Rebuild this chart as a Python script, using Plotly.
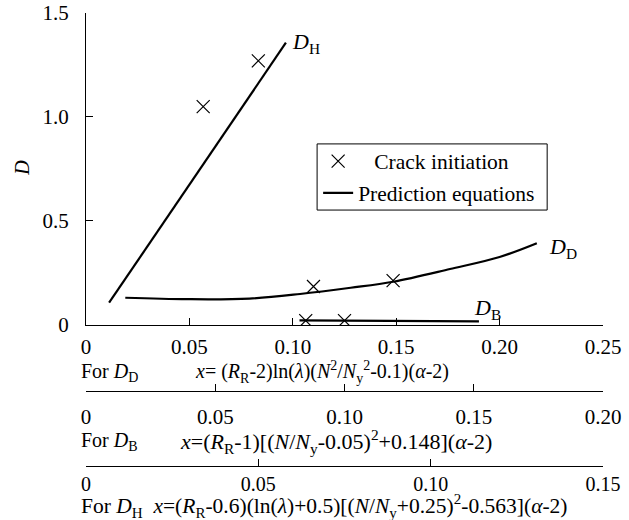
import plotly.graph_objects as go

FONT = "Liberation Serif"

# ---- data ----
crack_DH_x = [0.034, 0.050]
crack_DH_y = [1.05, 1.27]
crack_DD_x = [0.110, 0.1485]
crack_DD_y = [0.185, 0.213]
crack_DB_x = [0.085, 0.100]
crack_DB_y = [0.021, 0.021]

pred_DH_x = [0.0067, 0.031, 0.058]
pred_DH_y = [0.107, 0.697, 1.357]
pred_DD_x = [0.019, 0.049, 0.079, 0.1035, 0.128, 0.1485, 0.176, 0.200, 0.218]
pred_DD_y = [0.131, 0.124, 0.127, 0.149, 0.179, 0.208, 0.269, 0.327, 0.393]
pred_DB_x = [0.0826, 0.152]
pred_DB_y = [0.022, 0.017]

y_ticks = [0, 0.5, 1.0, 1.5]
y_ticktext = ["0", "0.5", "1.0", "1.5"]
xD_ticks = [0, 0.05, 0.10, 0.15, 0.20, 0.25]
xD_text = ["0", "0.05", "0.10", "0.15", "0.20", "0.25"]
xB_ticks = [0, 0.05, 0.10, 0.15, 0.20]
xB_text = ["0", "0.05", "0.10", "0.15", "0.20"]
xH_ticks = [0, 0.05, 0.10, 0.15]
xH_text = ["0", "0.05", "0.10", "0.15"]

fig = go.Figure()

line_style = dict(color="black", width=2.2)
mk = dict(symbol="x-thin", size=13, color="black", line=dict(color="black", width=1.2))

fig.add_trace(go.Scatter(x=pred_DH_x, y=pred_DH_y, mode="lines", line=line_style,
                         xaxis="x3", yaxis="y", showlegend=False, legendgroup="p"))
fig.add_trace(go.Scatter(x=pred_DD_x, y=pred_DD_y, mode="lines", line=dict(line_style, shape="spline"),
                         xaxis="x", yaxis="y", name="Prediction equations",
                         legend="legend2", legendgroup="p"))
fig.add_trace(go.Scatter(x=pred_DB_x, y=pred_DB_y, mode="lines", line=line_style,
                         xaxis="x2", yaxis="y", showlegend=False, legendgroup="p"))

fig.add_trace(go.Scatter(x=crack_DH_x, y=crack_DH_y, mode="markers", marker=mk,
                         xaxis="x3", yaxis="y", name="\u00a0\u00a0\u00a0Crack initiation",
                         legend="legend", legendgroup="c"))
fig.add_trace(go.Scatter(x=crack_DD_x, y=crack_DD_y, mode="markers", marker=mk,
                         xaxis="x", yaxis="y", showlegend=False, legendgroup="c"))
fig.add_trace(go.Scatter(x=crack_DB_x, y=crack_DB_y, mode="markers", marker=mk,
                         xaxis="x2", yaxis="y", showlegend=False, legendgroup="c"))

axis_common = dict(showline=True, linecolor="black", linewidth=1, ticks="inside",
                   ticklen=7, tickcolor="black", tickwidth=1, showgrid=False, zeroline=False,
                   automargin=False)
tf = dict(family=FONT, size=21, color="black")

y_dom0 = 0.3113
fig.update_layout(
    width=629, height=520,
    margin=dict(l=86, r=26, t=13, b=54, autoexpand=False),
    paper_bgcolor="white", plot_bgcolor="white",
    font=dict(family=FONT, size=20, color="black"),
    yaxis=dict(domain=[y_dom0, 1], range=[0, 1.5], tickvals=y_ticks, ticktext=y_ticktext,
               ticklabelstandoff=12, tickfont=tf, **axis_common),
    xaxis=dict(range=[0, 0.25], tickvals=xD_ticks, ticktext=xD_text, anchor="y",
               ticklabelstandoff=3, tickfont=tf, **axis_common),
    xaxis2=dict(range=[0, 0.2], tickvals=xB_ticks, ticktext=xB_text, overlaying="x",
                anchor="free", position=0.1645, side="bottom", ticklabelstandoff=6,
                tickfont=tf, **axis_common),
    xaxis3=dict(range=[0, 0.15], tickvals=xH_ticks, ticktext=xH_text, overlaying="x",
                anchor="free", position=0.0, side="bottom", ticklabelstandoff=0,
                tickfont=dict(tf, size=20), **axis_common),
    legend=dict(x=0.449, y=0.673, xanchor="left", yanchor="middle", bgcolor="rgba(0,0,0,0)",
                borderwidth=0, font=dict(family=FONT, size=21.5, color="black")),
    legend2=dict(x=0.449, y=0.603, xanchor="left", yanchor="middle", bgcolor="rgba(0,0,0,0)",
                 borderwidth=0, font=dict(family=FONT, size=21.5, color="black")),
    shapes=[dict(type="rect", xref="paper", yref="paper", x0=0.447, x1=0.892, y0=0.565, y1=0.711,
                 line=dict(color="black", width=1))],
)

ann = []
def A(x, y, text, size=20, xref="paper", yref="paper", xanchor="left", **kw):
    ann.append(dict(x=x, y=y, xref=xref, yref=yref, text=text, showarrow=False,
                    xanchor=xanchor, yanchor="middle", font=dict(family=FONT, size=size, color="black"), **kw))

A(-0.0135, 0.2075, "For <i>D</i><sub>D</sub>", size=20)
A(0.207, 0.2075, "<i>x</i>= (<i>R</i><sub>R</sub>-2)ln(<i>λ</i>)(<i>N</i><sup>2</sup>/<i>N</i><sub>y</sub><sup>2</sup>-0.1)(<i>α</i>-2)", size=20)
A(-0.0135, 0.053, "For <i>D</i><sub>B</sub>", size=20)
A(0.178, 0.053, "<i>x</i>=(<i>R</i><sub>R</sub>-1)[(<i>N</i>/<i>N</i><sub>y</sub>-0.05)<sup>2</sup>+0.148](<i>α</i>-2)", size=22)
A(-0.0135, -0.0883, "For <i>D</i><sub>H</sub>  <i>x</i>=(<i>R</i><sub>R</sub>-0.6)(ln(<i>λ</i>)+0.5)[(<i>N</i>/<i>N</i><sub>y</sub>+0.25)<sup>2</sup>-0.563](<i>α</i>-2)", size=21.5)
A(-0.124, 0.658, "<i>D</i>", size=20, textangle=-90, xanchor="center")
A(0.0986, 1.356, "<i>D</i><sub>H</sub>", size=22, xref="x", yref="y")
A(0.2229, 0.370, "<i>D</i><sub>D</sub>", size=22, xref="x", yref="y")
A(0.1867, 0.077, "<i>D</i><sub>B</sub>", size=22, xref="x", yref="y")
fig.update_layout(annotations=ann)

fig.write_html("out.html")
